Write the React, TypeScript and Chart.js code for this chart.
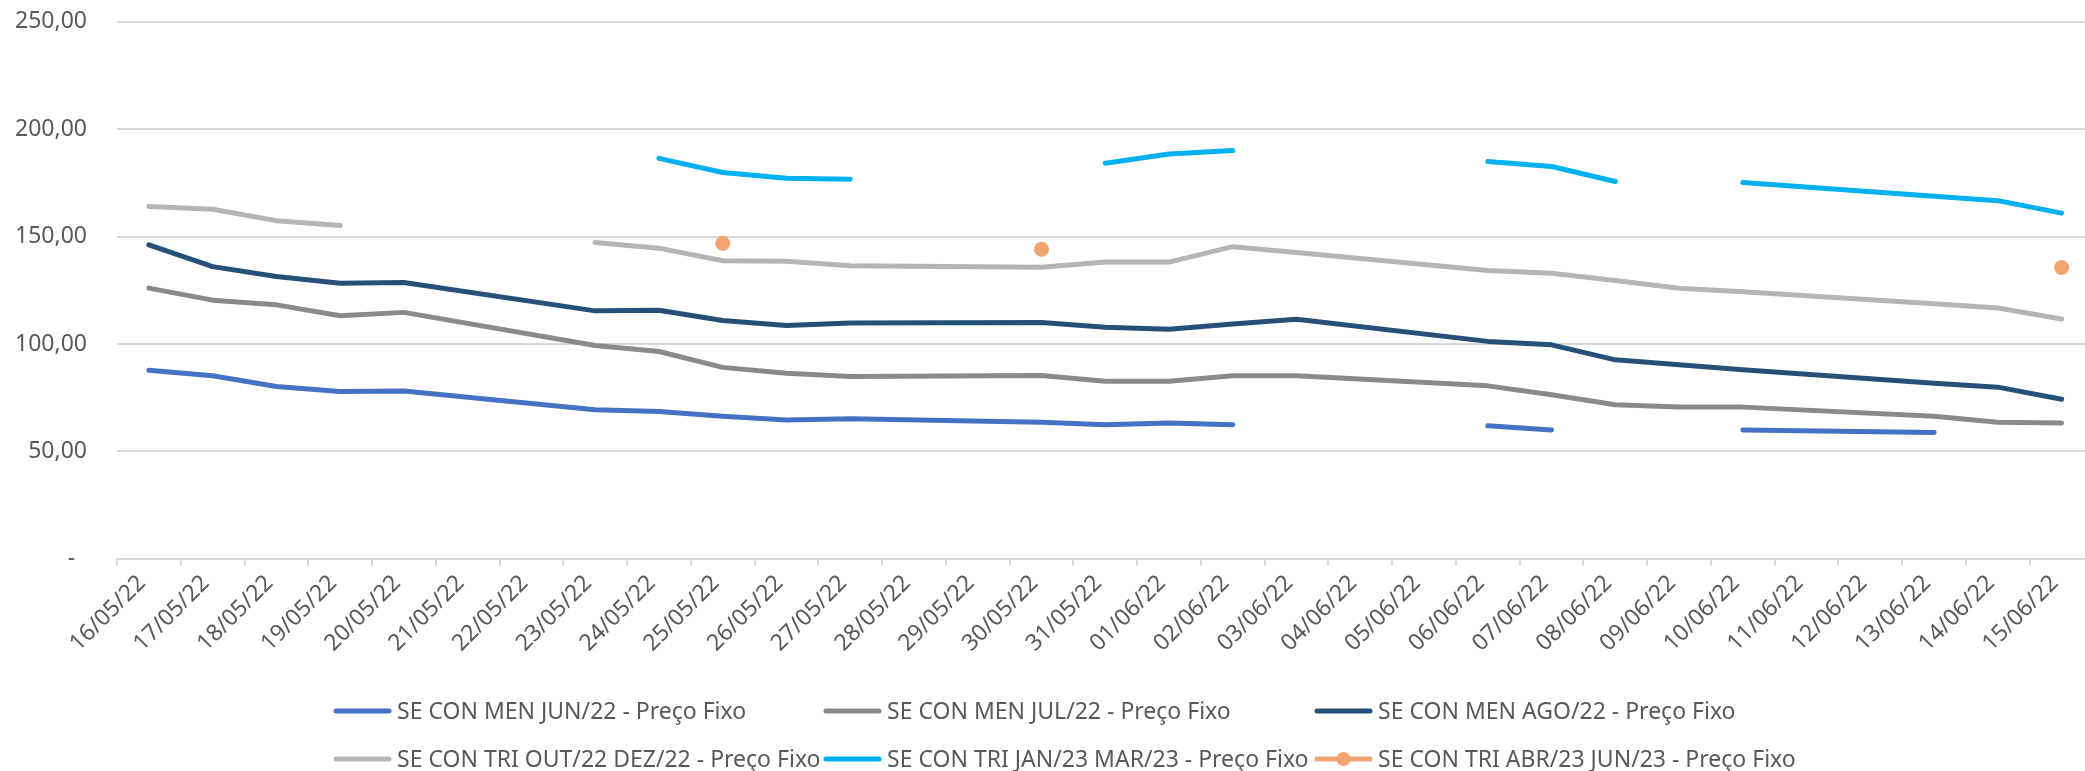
import { useEffect, useRef } from 'react';
import { Chart, registerables } from 'chart.js';

Chart.register(...registerables);

const dates = [
  '16/05/22', '17/05/22', '18/05/22', '19/05/22', '20/05/22', '21/05/22', '22/05/22', '23/05/22',
  '24/05/22', '25/05/22', '26/05/22', '27/05/22', '28/05/22', '29/05/22', '30/05/22', '31/05/22',
  '01/06/22', '02/06/22', '03/06/22', '04/06/22', '05/06/22', '06/06/22', '07/06/22', '08/06/22',
  '09/06/22', '10/06/22', '11/06/22', '12/06/22', '13/06/22', '14/06/22', '15/06/22',
];

// weekend days: the lines connect straight across them
const nonTradingDays = ['21/05/22', '22/05/22', '28/05/22', '29/05/22', '04/06/22', '05/06/22', '11/06/22', '12/06/22'];

const seriesNames = [
  'SE CON MEN JUN/22 - Preço Fixo',
  'SE CON MEN JUL/22 - Preço Fixo',
  'SE CON MEN AGO/22 - Preço Fixo',
  'SE CON TRI OUT/22 DEZ/22 - Preço Fixo',
  'SE CON TRI JAN/23 MAR/23 - Preço Fixo',
  'SE CON TRI ABR/23 JUN/23 - Preço Fixo',
];

const menJun22 = [87.8, 85.2, 80.2, 77.9, 78.1, null, null, 69.4, 68.6, 66.3, 64.6, 65.2, null, null, 63.6, 62.4, 63.2, 62.4, null, null, null, 61.9, 60.0, null, null, 60.0, null, null, 58.8, null, null];
const menJul22 = [126.0, 120.4, 118.2, 113.1, 114.7, null, null, 99.3, 96.5, 89.1, 86.4, 84.9, null, null, 85.3, 82.6, 82.6, 85.2, 85.2, null, null, 80.5, 76.4, 71.7, 70.6, 70.6, null, null, 66.3, 63.6, 63.2];
const menAgo22 = [146.1, 136.0, 131.4, 128.3, 128.6, null, null, 115.4, 115.7, 110.9, 108.6, 109.7, null, null, 110.0, 107.8, 106.9, 109.3, 111.5, null, null, 101.2, 99.6, 92.6, 90.3, 88.0, null, null, 81.7, 79.9, 74.3];
const triOutDez22 = [164.0, 162.7, 157.4, 155.1, null, null, null, 147.2, 144.6, 138.7, 138.5, 136.4, null, null, 135.7, 138.1, 138.1, 145.3, 142.6, null, null, 134.2, 132.9, 129.5, 125.9, 124.3, null, null, 118.7, 116.7, 111.6];
const triJanMar23 = [null, null, null, null, null, null, null, null, 186.4, 179.8, 177.1, 176.7, null, null, null, 184.1, 188.4, 190.0, null, null, null, 184.9, 182.6, 175.6, null, 175.1, null, null, 168.8, 166.7, 160.9];
const triAbrJun23 = [null, null, null, null, null, null, null, null, null, 146.9, null, null, null, null, 144.1, null, null, null, null, null, null, null, null, null, null, null, null, null, null, null, 135.6];

const seriesColors = ['#4472C4', '#8A8A8A', '#255179', '#B5B5B5', '#00B0F0', '#F1A46E'];

const yMin = 0;
const yMax = 250;
const yStep = 50;

function toPoints(values: (number | null)[]) {
  return dates
    .map((d, i) => ({ x: d, y: values[i] }))
    .filter((p) => !nonTradingDays.includes(p.x));
}

const FONT = '"Noto Sans", sans-serif';
const TEXT = '#595959';

const gridLegend = {
  id: 'gridLegend',
  afterDraw(chart: any) {
    const ctx = chart.ctx;
    const cols = [333, 823, 1314];
    const rows = [711, 759];
    chart.data.datasets.forEach((ds: any, i: number) => {
      const x = cols[i % 3];
      const y = rows[Math.floor(i / 3)];
      ctx.save();
      ctx.strokeStyle = ds.borderColor;
      ctx.lineWidth = 5;
      ctx.lineCap = 'round';
      ctx.beginPath();
      ctx.moveTo(x + 3, y);
      ctx.lineTo(x + 56, y);
      ctx.stroke();
      if (ds.pointRadius > 0) {
        ctx.fillStyle = ds.pointBackgroundColor;
        ctx.beginPath();
        ctx.arc(x + 29.5, y, 7, 0, Math.PI * 2);
        ctx.fill();
      }
      ctx.fillStyle = TEXT;
      ctx.font = `23px ${FONT}`;
      ctx.textBaseline = 'middle';
      ctx.textAlign = 'left';
      ctx.fillText(ds.label, x + 64, y + 1);
      ctx.restore();
    });
  },
};

export default function App() {
  const ref = useRef<HTMLCanvasElement>(null);

  useEffect(() => {
    if (!ref.current) return;
    const all = [menJun22, menJul22, menAgo22, triOutDez22, triJanMar23, triAbrJun23];
    const datasets = all.map((vals, i) => {
      const isMarker = i === 5;
      return {
        label: seriesNames[i],
        data: toPoints(vals),
        borderColor: seriesColors[i],
        backgroundColor: seriesColors[i],
        pointBackgroundColor: seriesColors[i],
        pointBorderWidth: 0,
        borderWidth: 5,
        borderCapStyle: 'round',
        borderJoinStyle: 'round',
        pointRadius: isMarker ? 7.5 : 0,
        pointHoverRadius: isMarker ? 7.5 : 0,
        spanGaps: false,
        tension: 0,
        fill: false,
      };
    });

    const chart = new Chart(ref.current, {
      type: 'line',
      data: { labels: dates, datasets: datasets as any },
      options: {
        responsive: false,
        animation: false,
        layout: { padding: { top: 21.7, left: 0, right: 0, bottom: 0 } },
        plugins: {
          legend: { display: false },
          tooltip: { enabled: false },
        },
        scales: {
          x: {
            type: 'category',
            offset: true,
            afterFit: (scale: any) => {
              scale.height = 771 - 558.8;
              scale.paddingTop = 0;
              scale.paddingBottom = 0;
              scale.paddingLeft = 0;
              scale.paddingRight = 0;
            },
            grid: {
              display: true,
              drawOnChartArea: false,
              drawTicks: true,
              tickLength: 7,
              color: '#D9D9D9',
              lineWidth: 2,
              offset: true,
            },
            border: { display: true, color: '#D9D9D9', width: 2 },
            ticks: {
              autoSkip: false,
              maxRotation: 45,
              minRotation: 45,
              padding: 4,
              labelOffset: -7,
              color: TEXT,
              font: { family: FONT, size: 23 },
            },
          },
          y: {
            min: yMin,
            max: yMax,
            afterFit: (scale: any) => {
              scale.width = 117;
              scale.paddingTop = 0;
              scale.paddingBottom = 0;
              scale.paddingLeft = 0;
              scale.paddingRight = 0;
            },
            grid: { color: '#D9D9D9', lineWidth: 2, drawTicks: false },
            border: { display: false },
            ticks: {
              stepSize: yStep,
              padding: 30,
              color: TEXT,
              font: { family: FONT, size: 23 },
              callback: (v: any) => (Number(v) === 0 ? '-  ' : Number(v).toFixed(2).replace('.', ',')),
            },
          },
        },
      } as any,
      plugins: [gridLegend],
    });

    return () => chart.destroy();
  }, []);

  return (
    <div
      style={{
        position: 'absolute',
        left: 0,
        top: 0,
        width: 2085,
        height: 771,
        overflow: 'hidden',
        background: '#FFFFFF',
      }}
    >
      <canvas ref={ref} width={2101} height={771} style={{ display: 'block' }} />
    </div>
  );
}
